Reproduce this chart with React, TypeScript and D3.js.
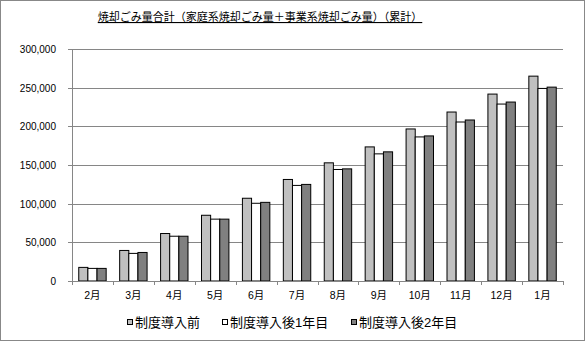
import React from 'react';
import * as d3 from 'd3';

const months = ['2月', '3月', '4月', '5月', '6月', '7月', '8月', '9月', '10月', '11月', '12月', '1月'];
const seriesNames = ['制度導入前', '制度導入後1年目', '制度導入後2年目'];
const before = [17600, 39500, 61400, 85000, 107000, 131300, 152800, 173400, 196600, 218500, 241700, 264900];
const year1 = [16300, 35700, 57900, 80000, 100500, 123600, 144200, 164400, 186300, 205600, 228800, 249000];
const year2 = [16300, 36900, 57900, 80000, 101700, 124900, 145000, 167000, 187600, 208200, 231400, 250700];
const yTicks = [0, 50000, 100000, 150000, 200000, 250000, 300000];
const colors = ['#c0c0c0', '#ffffff', '#808080'];

const W = 585;
const H = 341;
const plot = { left: 72, right: 563, top: 49, bottom: 281 };
const font = '"Liberation Sans", "Noto Sans CJK JP", sans-serif';

const App: React.FC = () => {
  const series = [before, year1, year2];
  const x = d3.scaleBand<string>().domain(months).range([plot.left, plot.right]).paddingInner(0.33).paddingOuter(0.165);
  const band = d3.scaleBand<number>().domain([0, 1, 2]).range([0, x.bandwidth()]);
  const y = d3.scaleLinear().domain([0, 300000]).range([plot.bottom, plot.top]);
  const step = (plot.right - plot.left) / months.length;
  const fmt = d3.format(',');

  const legendX = [127, 222, 351];

  return (
    <svg width={W} height={H} style={{ position: 'absolute', left: 0, top: 0 }} fontFamily={font}>
      <rect x={0.5} y={0.5} width={W - 1} height={H - 1} fill="#fff" stroke="#888" />
      <text x={260} y={21} fontSize={11} textAnchor="middle" textDecoration="underline" fill="#000">
        焼却ごみ量合計（家庭系焼却ごみ量＋事業系焼却ごみ量）（累計）
      </text>
      {yTicks.map((t) => (
        <g key={t}>
          {t > 0 && <line x1={plot.left} x2={plot.right} y1={Math.round(y(t)) + 0.5} y2={Math.round(y(t)) + 0.5} stroke="#868686" />}
          <line x1={plot.left - 4} x2={plot.left} y1={Math.round(y(t)) + 0.5} y2={Math.round(y(t)) + 0.5} stroke="#868686" />
          <text x={56} y={y(t) + 4} fontSize={10} textAnchor="end" fill="#000">{fmt(t)}</text>
        </g>
      ))}
      <line x1={plot.left + 0.5} x2={plot.left + 0.5} y1={plot.top} y2={plot.bottom} stroke="#868686" />
      {months.map((m, i) => (
        <g key={m}>
          {series.map((s, k) => (
            <rect key={k} x={(x(m) ?? 0) + (band(k) ?? 0)} y={y(s[i])} width={band.bandwidth()} height={plot.bottom - y(s[i])}
              fill={colors[k]} stroke="#000" strokeWidth={1} />
          ))}
          <text x={(x(m) ?? 0) + x.bandwidth() / 2} y={299} fontSize={10.5} textAnchor="middle" fill="#000">{m}</text>
        </g>
      ))}
      <line x1={plot.left} x2={plot.right} y1={plot.bottom + 0.5} y2={plot.bottom + 0.5} stroke="#868686" />
      {d3.range(months.length + 1).map((i) => (
        <line key={i} x1={Math.round(plot.left + i * step) + 0.5} x2={Math.round(plot.left + i * step) + 0.5}
          y1={plot.bottom} y2={plot.bottom + 4} stroke="#868686" />
      ))}
      {seriesNames.map((n, k) => (
        <g key={n}>
          <rect x={legendX[k] + 0.5} y={319.5} width={5} height={5} fill={colors[k]} stroke="#000" />
          <text x={legendX[k] + 8} y={327} fontSize={13} fill="#000">{n}</text>
        </g>
      ))}
    </svg>
  );
};

export default App;
